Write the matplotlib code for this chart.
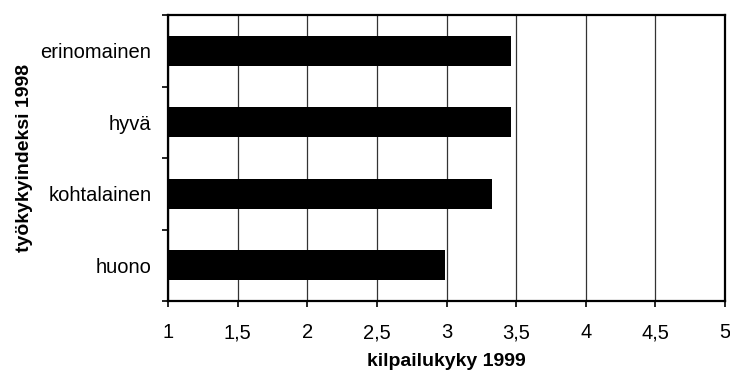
import matplotlib
matplotlib.use("Agg")
import matplotlib.pyplot as plt
import numpy as np

categories = ["huono", "kohtalainen", "hyvä", "erinomainen"]
values = [2.99, 3.33, 3.46, 3.46]
x_ticks = [1, 1.5, 2, 2.5, 3, 3.5, 4, 4.5, 5]
x_tick_labels = ["1", "1,5", "2", "2,5", "3", "3,5", "4", "4,5", "5"]

plt.rcParams["font.family"] = ["Liberation Sans", "DejaVu Sans"]

fig = plt.figure(figsize=(7.3, 3.78), dpi=100)
ax = fig.add_axes([0.2301, 0.2037, 0.7631, 0.7563])

pos = np.arange(len(categories))
ax.barh(pos, np.array(values) - 1, left=1, height=0.42, color="black", zorder=3)

ax.set_xlim(1, 5)
ax.set_ylim(-0.5, len(categories) - 0.5)
ax.set_xticks(x_ticks)
ax.set_xticklabels(x_tick_labels, fontsize=14.5)
ax.xaxis.grid(True, color="#333333", linewidth=0.9, zorder=0)
ax.set_axisbelow(True)

# category labels sit between boundary ticks
ax.set_yticks(pos)
ax.set_yticklabels(categories, fontsize=14.5)
ax.tick_params(axis="y", length=0, pad=12)
ax.set_yticks(np.arange(-0.5, len(categories)), minor=True)
ax.tick_params(axis="y", which="minor", length=4, width=1.2, direction="out")
ax.tick_params(axis="x", length=4, width=1.2, direction="out", pad=12)

for s in ax.spines.values():
    s.set_linewidth(1.6)
    s.set_color("black")

ax.set_xlabel("kilpailukyky 1999", fontsize=14, fontweight="bold", labelpad=8)
ax.set_ylabel("työkykyindeksi 1998", fontsize=14, fontweight="bold", labelpad=5)

fig.savefig("out.png", dpi=100)
